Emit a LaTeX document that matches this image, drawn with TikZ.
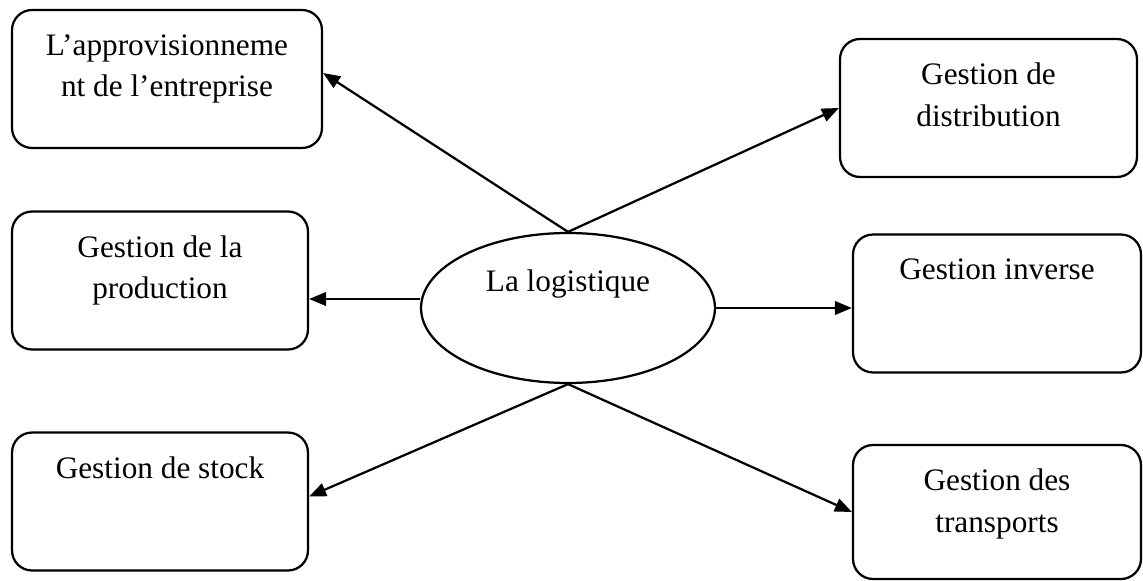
\documentclass[tikz,border=0pt]{standalone}
\usepackage{fontspec}
\setmainfont{Liberation Serif}
\usetikzlibrary{shapes.geometric, positioning, arrows.meta}

\tikzset{
  bloc/.style={draw, rectangle, rounded corners=0.4cm, line width=0.045cm,
    minimum height=2.76cm, inner sep=0pt},
  texte/.style={align=center, inner sep=0pt, font=\fontsize{17.8}{23.6}\selectfont},
  fleche/.style={line width=0.045cm, -{Triangle[length=0.34cm,width=0.27cm]}}
}

\begin{document}
\begin{tikzpicture}[x=0.02cm, y=-0.02cm]
\useasboundingbox (0,0) rectangle (1143,581);
\fill[white] (0,0) rectangle (1143,581);

% centre
\node[draw, ellipse, line width=0.045cm, minimum width=5.88cm, minimum height=3cm] (logi) at (568,308) {};
\node[texte, below=0.76cm of logi.north] (logitxt) {La logistique};

% a gauche
\node[bloc, minimum width=6.2cm] (appro) at (167,79) {};
\node[bloc, minimum width=5.92cm] (prod) at (160,280.5) {};
\node[bloc, minimum width=5.92cm] (stock) at (160,501.5) {};

% a droite
\node[bloc, minimum width=5.94cm] (distrib) at (988.5,108) {};
\node[bloc, minimum width=5.76cm] (inverse) at (997,303.5) {};
\node[bloc, minimum width=5.76cm, minimum height=2.68cm] (transp) at (997,512) {};

\node[texte, below=0.5cm of appro.north] (approtxt) {L’approvisionneme\\nt de l’entreprise};
\node[texte, below=0.5cm of prod.north] (prodtxt) {Gestion de la\\production};
\node[texte, below=0.5cm of stock.north] (stocktxt) {Gestion de stock};
\node[texte, below=0.5cm of distrib.north] (distribtxt) {Gestion de\\distribution};
\node[texte, below=0.5cm of inverse.north] (inversetxt) {Gestion inverse};
\node[texte, below=0.5cm of transp.north] (transptxt) {Gestion des\\transports};

\draw[fleche] (logi.north) -- ([yshift=0.12cm]appro.east);
\draw[fleche] (logi.north) -- (distrib.west);
\draw[fleche] ([yshift=0.18cm]logi.west) -- ([yshift=0.18cm]logi.west -| prod.east);
\draw[fleche] (logi.east) -- (logi.east -| inverse.west);
\draw[fleche] (logi.south) -- ([yshift=0.1cm]stock.east);
\draw[fleche] (logi.south) -- (transp.west);
\end{tikzpicture}
\end{document}
